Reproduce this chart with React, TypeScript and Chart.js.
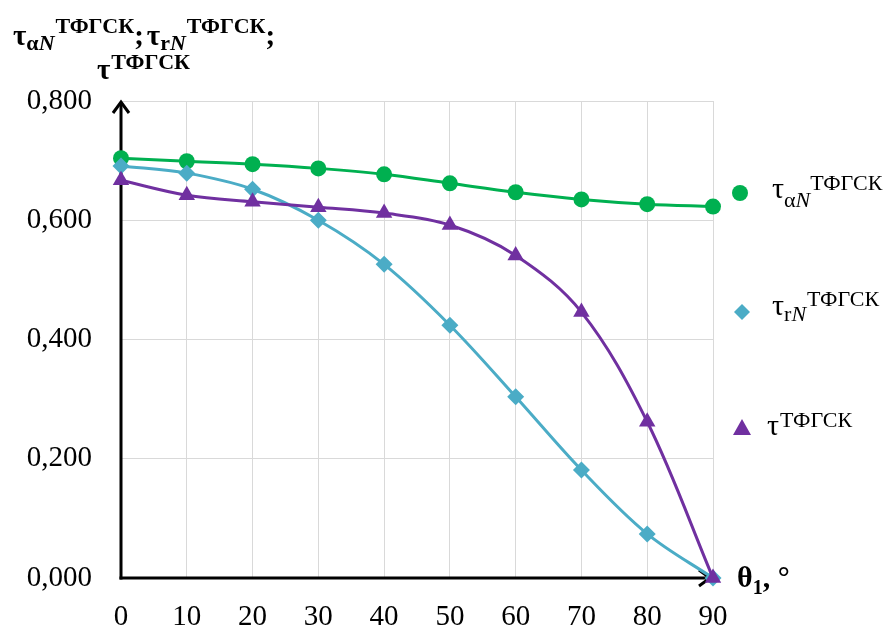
import React, { useEffect, useRef } from "react";
import { Chart, registerables } from "chart.js";

Chart.register(...registerables);

// ---- data ----
const angles = [0, 10, 20, 30, 40, 50, 60, 70, 80, 90];
const tauAlphaN = [0.704, 0.699, 0.694, 0.687, 0.677, 0.662, 0.647, 0.635, 0.627, 0.623];
const tauRN = [0.691, 0.679, 0.652, 0.600, 0.526, 0.424, 0.304, 0.181, 0.074, 0.000];
const tauTotal = [0.667, 0.642, 0.631, 0.622, 0.612, 0.592, 0.541, 0.446, 0.262, 0.000];
const xTicks = [0, 10, 20, 30, 40, 50, 60, 70, 80, 90];
const yTicks = [0, 0.2, 0.4, 0.6, 0.8];

const SUP = "ТФГСК";
const xAxisTitle = "θ";
const xAxisSub = "1";
const xAxisTail = ", °";

const GREEN = "#00B050";
const BLUE = "#4BACC6";
const PURPLE = "#7030A0";
const SERIF = '"Liberation Serif", "Times New Roman", "DejaVu Serif", serif';

type Run = { t: string; x?: number; y: number; s: number; b?: boolean; i?: boolean; dx?: number };

function drawRuns(ctx: CanvasRenderingContext2D, runs: Run[]) {
  let cx = 0;
  for (const r of runs) {
    ctx.font = `${r.i ? "italic " : ""}${r.b ? "bold " : ""}${r.s}px ${SERIF}`;
    const x = r.x !== undefined ? r.x : cx + (r.dx || 0);
    ctx.fillText(r.t, x, r.y);
    cx = x + ctx.measureText(r.t).width;
  }
}

const decorPlugin = {
  id: "decor",
  beforeDatasetsDraw(chart: any) {
    const ctx: CanvasRenderingContext2D = chart.ctx;
    const { left, right, top, bottom } = chart.chartArea;
    ctx.save();
    ctx.strokeStyle = "#000";
    ctx.lineWidth = 3;
    ctx.lineCap = "butt";
    ctx.lineJoin = "miter";
    ctx.beginPath();
    ctx.moveTo(left, bottom + 1.5);
    ctx.lineTo(left, top + 1);
    ctx.stroke();
    ctx.beginPath();
    ctx.moveTo(left - 8, top + 12);
    ctx.lineTo(left, top + 1);
    ctx.lineTo(left + 8, top + 12);
    ctx.stroke();
    ctx.beginPath();
    ctx.moveTo(left - 1.5, bottom);
    ctx.lineTo(right - 3, bottom);
    ctx.stroke();
    ctx.beginPath();
    ctx.moveTo(right - 14, bottom - 8);
    ctx.lineTo(right - 3, bottom);
    ctx.lineTo(right - 14, bottom + 8);
    ctx.stroke();
    ctx.restore();
  },
  afterDraw(chart: any) {
    const ctx: CanvasRenderingContext2D = chart.ctx;
    ctx.save();
    ctx.fillStyle = "#000";
    ctx.textBaseline = "alphabetic";
    ctx.textAlign = "left";
    // title (y axis caption)
    drawRuns(ctx, [
      { t: "τ", x: 13, y: 45, s: 29, b: true },
      { t: "α", y: 50, s: 22, b: true },
      { t: "N", y: 50, s: 22, b: true, i: true },
      { t: SUP, y: 33, s: 22, b: true, dx: 1 },
      { t: ";", y: 45, s: 29, b: true },
      { t: "τ", y: 45, s: 29, b: true, dx: 3 },
      { t: "r", y: 50, s: 22, b: true },
      { t: "N", y: 50, s: 22, b: true, i: true },
      { t: SUP, y: 33, s: 22, b: true, dx: 1 },
      { t: ";", y: 45, s: 29, b: true },
    ]);
    drawRuns(ctx, [
      { t: "τ", x: 97, y: 79, s: 29, b: true },
      { t: SUP, y: 69, s: 22, b: true, dx: 1 },
    ]);
    // x axis caption
    drawRuns(ctx, [
      { t: xAxisTitle, x: 737, y: 587, s: 30, b: true },
      { t: xAxisSub, y: 594, s: 20, b: true },
      { t: xAxisTail, y: 587, s: 30, b: true },
    ]);
    // legend markers
    ctx.fillStyle = GREEN;
    ctx.beginPath();
    ctx.arc(740, 193, 8, 0, Math.PI * 2);
    ctx.fill();
    ctx.fillStyle = BLUE;
    ctx.beginPath();
    ctx.moveTo(742, 312 - 8);
    ctx.lineTo(750, 312);
    ctx.lineTo(742, 312 + 8);
    ctx.lineTo(734, 312);
    ctx.closePath();
    ctx.fill();
    ctx.fillStyle = PURPLE;
    ctx.beginPath();
    ctx.moveTo(742, 419);
    ctx.lineTo(751, 435);
    ctx.lineTo(733, 435);
    ctx.closePath();
    ctx.fill();
    // legend texts
    ctx.fillStyle = "#000";
    drawRuns(ctx, [
      { t: "τ", x: 772, y: 198, s: 30 },
      { t: "α", y: 207, s: 22 },
      { t: "N", y: 207, s: 22, i: true },
      { t: SUP, y: 190, s: 22 },
    ]);
    drawRuns(ctx, [
      { t: "τ", x: 772, y: 315, s: 30 },
      { t: "r", y: 321, s: 22 },
      { t: "N", y: 321, s: 22, i: true },
      { t: SUP, y: 306, s: 22, dx: 1 },
    ]);
    drawRuns(ctx, [
      { t: "τ", x: 767, y: 435, s: 30 },
      { t: SUP, y: 427, s: 22, dx: 1 },
    ]);
    ctx.restore();
  },
};

export default function App() {
  const ref = useRef<HTMLCanvasElement | null>(null);

  useEffect(() => {
    if (!ref.current) return;
    const mk = (vals: number[]) => angles.map((a, i) => ({ x: a, y: vals[i] }));
    const chart = new Chart(ref.current, {
      type: "line",
      data: {
        datasets: [
          {
            label: "τ_αN^ТФГСК",
            data: mk(tauAlphaN),
            borderColor: GREEN,
            backgroundColor: GREEN,
            borderWidth: 3,
            pointStyle: "circle",
            pointRadius: 8,
            pointBorderWidth: 0,
            tension: 0.35,
            clip: false,
            order: 2,
          },
          {
            label: "τ_rN^ТФГСК",
            data: mk(tauRN),
            borderColor: BLUE,
            backgroundColor: BLUE,
            borderWidth: 3,
            pointStyle: "rectRot",
            pointRadius: 8.5,
            pointBorderWidth: 0,
            tension: 0.35,
            clip: false,
            order: 1,
          },
          {
            label: "τ^ТФГСК",
            data: mk(tauTotal),
            borderColor: PURPLE,
            backgroundColor: PURPLE,
            borderWidth: 3,
            pointStyle: "triangle",
            pointRadius: 9.5,
            pointBorderWidth: 0,
            tension: 0.35,
            clip: false,
            order: 0,
          },
        ],
      },
      options: {
        responsive: false,
        animation: false,
        layout: { padding: { left: 0, top: 101, right: 170, bottom: 0 } },
        plugins: { legend: { display: false }, tooltip: { enabled: false } },
        scales: {
          x: {
            type: "linear",
            min: 0,
            max: 90,
            afterBuildTicks: (s: any) => {
              s.ticks = xTicks.map((v) => ({ value: v }));
            },
            afterFit: (s: any) => {
              s.height = 50;
            },
            grid: { color: "#d9d9d9", lineWidth: 1, drawTicks: false },
            border: { display: false },
            ticks: {
              padding: 22,
              color: "#000",
              font: { family: SERIF, size: 29 },
              maxRotation: 0,
              autoSkip: false,
            },
          },
          y: {
            min: 0,
            max: 0.8,
            afterBuildTicks: (s: any) => {
              s.ticks = yTicks.map((v) => ({ value: v }));
            },
            afterFit: (s: any) => {
              s.width = 121;
            },
            grid: { color: "#d9d9d9", lineWidth: 1, drawTicks: false },
            border: { display: false },
            ticks: {
              padding: 29,
              color: "#000",
              font: { family: SERIF, size: 29 },
              callback: (v: any) => Number(v).toFixed(3).replace(".", ","),
            },
          },
        },
      },
      plugins: [decorPlugin],
    });
    return () => chart.destroy();
  }, []);

  return (
    <div style={{ position: "fixed", left: 0, top: 0, width: 883, height: 628, background: "#fff" }}>
      <canvas ref={ref} width={883} height={628} />
    </div>
  );
}
